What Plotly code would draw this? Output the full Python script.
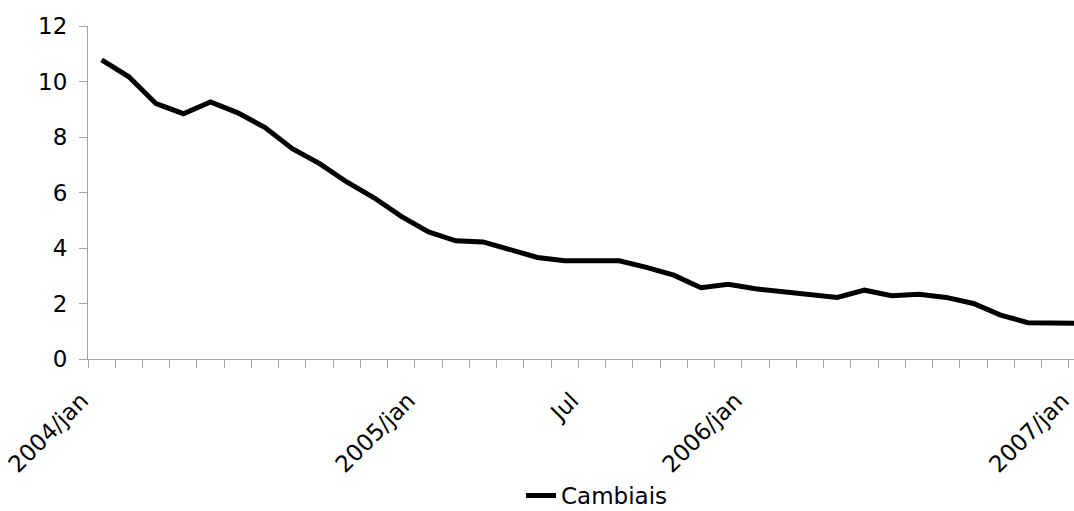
import plotly.graph_objects as go

# Monthly series, January 2004 to January 2007
years = ["2004", "2005", "2006", "2007"]
months = ["jan", "fev", "mar", "abr", "mai", "jun",
          "jul", "ago", "set", "out", "nov", "dez"]
categories = [f"{y}/{m}" for y in years for m in months][:37]

cambiais = [10.78, 10.17, 9.20, 8.84, 9.26, 8.87, 8.34, 7.58, 7.04, 6.38,
            5.81, 5.14, 4.58, 4.26, 4.22, 3.95, 3.66, 3.54, 3.56, 3.54,
            3.30, 3.02, 2.57, 2.69, 2.53, 2.42, 2.34, 2.22, 2.48, 2.28,
            2.33, 2.22, 2.00, 1.58, 1.31, 1.29, 1.28]

# Only a few months carry a visible label on the axis
shown_labels = {"2004/jan": "2004/jan", "2005/jan": "2005/jan",
                "2005/jul": "Jul", "2006/jan": "2006/jan",
                "2007/jan": "2007/jan"}
tick_text = [shown_labels.get(c, "") for c in categories]

y_ticks = [0, 2, 4, 6, 8, 10, 12]

FONT = "DejaVu Sans"
AXIS_GREY = "#a6a6a6"

fig = go.Figure()
fig.add_trace(go.Scatter(
    x=categories, y=cambiais, mode="lines", name="Cambiais",
    line=dict(color="black", width=5),
))

fig.update_layout(
    width=1096, height=511,
    margin=dict(l=88, r=0, t=26, b=152, autoexpand=False),
    paper_bgcolor="white", plot_bgcolor="white",
    font=dict(family=FONT, size=23, color="black"),
    showlegend=True,
    legend=dict(orientation="h", x=0.505, xanchor="center",
                y=-0.41, yanchor="middle",
                font=dict(family=FONT, size=23, color="black"),
                bgcolor="rgba(0,0,0,0)"),
    xaxis=dict(
        type="category", categoryorder="array", categoryarray=categories,
        range=[-0.5, len(categories) - 0.5],
        tickmode="array", tickvals=categories, ticktext=tick_text,
        tickson="boundaries", ticks="outside", ticklen=8,
        tickcolor=AXIS_GREY, tickwidth=1,
        tickangle=-45,
        ticklabelshift=-20, ticklabelstandoff=18,
        automargin=False,
        showline=True, linecolor=AXIS_GREY, linewidth=1,
        showgrid=False, zeroline=False,
        tickfont=dict(family=FONT, size=23, color="black"),
    ),
    yaxis=dict(
        range=[0, 12], tickmode="array", tickvals=y_ticks,
        ticks="outside", ticklen=8, tickcolor=AXIS_GREY, tickwidth=1,
        showline=True, linecolor=AXIS_GREY, linewidth=1,
        showgrid=False, zeroline=False,
        automargin=False,
        ticklabelstandoff=7,
        tickfont=dict(family=FONT, size=23, color="black"),
    ),
)

fig.write_html(
    "out.html",
    config={"displayModeBar": False},
    post_script="document.documentElement.style.overflow='hidden';"
                "document.body.style.overflow='hidden';",
)
